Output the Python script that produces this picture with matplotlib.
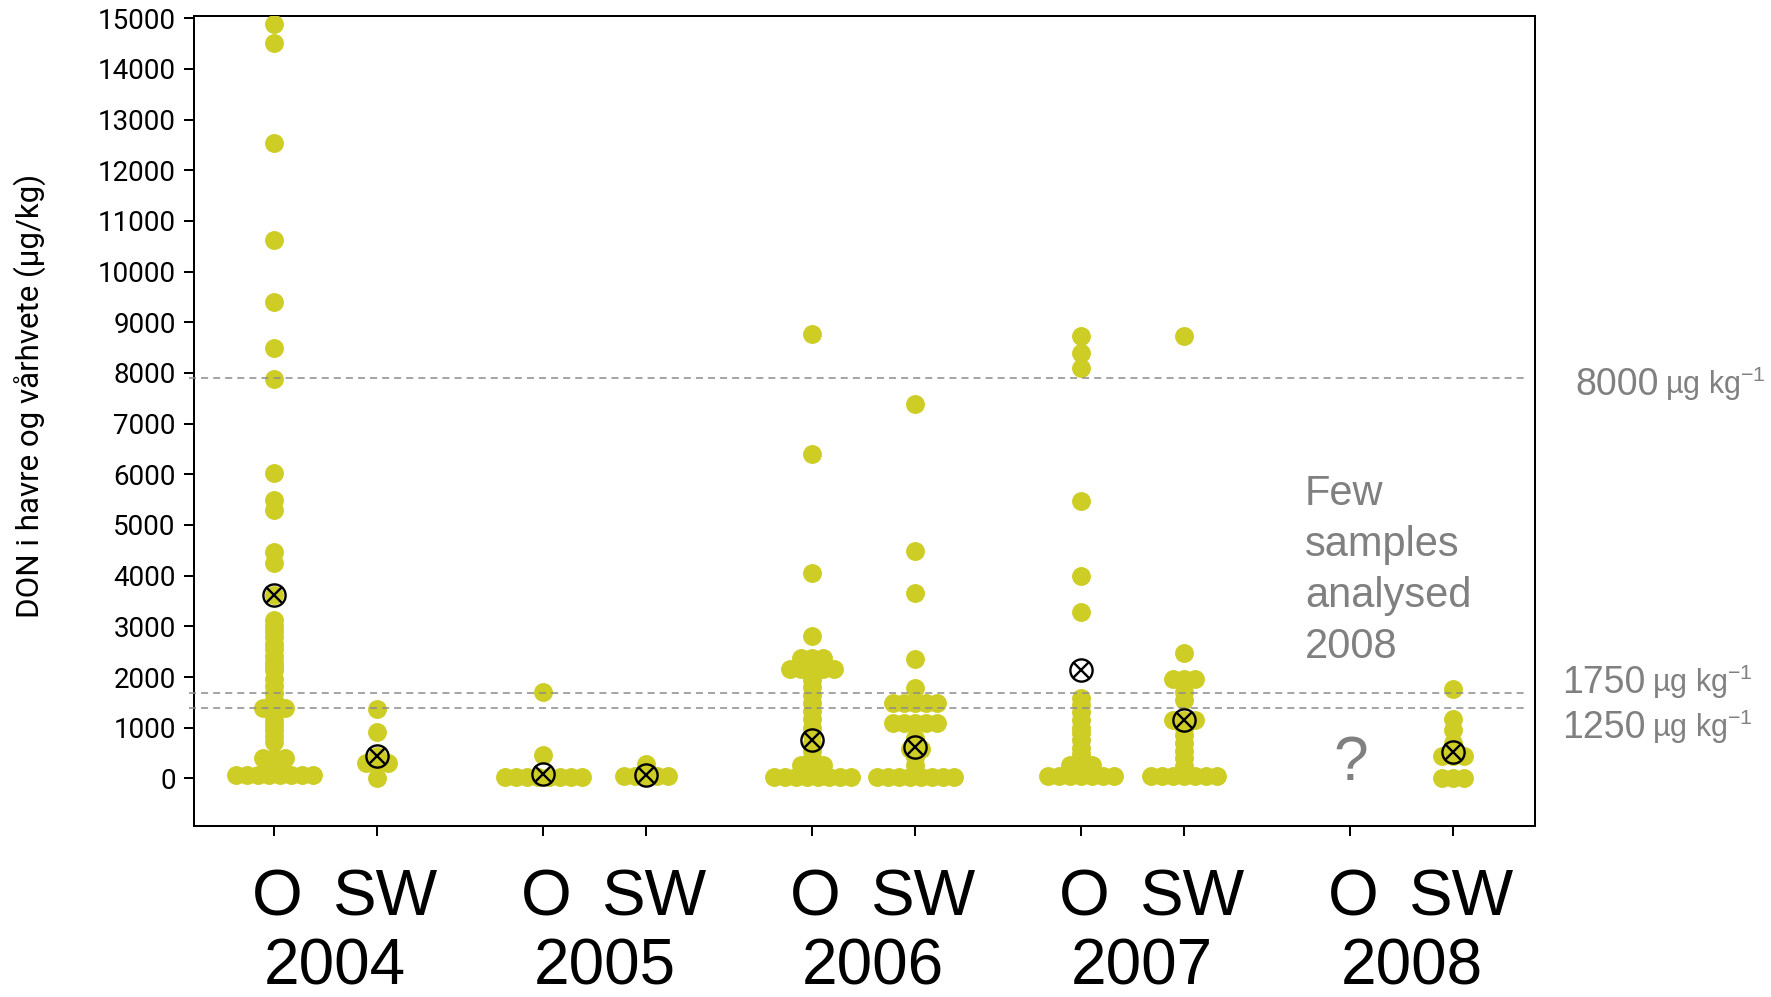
import numpy as np
import matplotlib
matplotlib.use("Agg")
import matplotlib.pyplot as plt

# DON values (µg/kg), one list per year / crop
years = ["2004", "2005", "2006", "2007", "2008"]
crops = ["O", "SW"]

don_2004_o = [14890, 14510, 12530, 10620, 9400, 8490, 7880, 6020, 5490, 5300,
              4470, 4250, 3620, 3120, 3000, 2900, 2790, 2650, 2560, 2420, 2300,
              2200, 2140, 1970, 1820, 1680, 1540, 1380, 1380, 1380, 1280, 1160,
              1050, 950, 840, 720, 400, 400, 400, 60, 60, 60, 60, 60, 60, 60, 60]
don_2004_sw = [1360, 920, 440, 300, 300, 300, 10]
don_2005_o = [1700, 460, 30, 30, 30, 30, 30, 30, 30, 30]
don_2005_sw = [280, 50, 50, 50, 50, 50]
don_2006_o = [8760, 6400, 4050, 2800, 2370, 2370, 2370, 2150, 2150, 2150, 2150,
              2150, 1950, 1800, 1650, 1480, 1330, 1180, 1000, 850, 700, 550, 400,
              260, 260, 260, 30, 30, 30, 30, 30, 30, 30, 30]
don_2006_sw = [7390, 4490, 3660, 2360, 1790, 1480, 1480, 1480, 1480, 1480,
               1100, 1100, 1100, 1100, 1100, 800, 580, 580, 420, 260,
               30, 30, 30, 30, 30, 30, 30, 30]
don_2007_o = [8720, 8390, 8090, 5470, 3990, 3280, 1580, 1450, 1300, 1150, 1000,
              890, 750, 600, 490, 260, 260, 260, 45, 45, 45, 45, 45, 45, 45]
don_2007_sw = [8720, 2480, 1970, 1970, 1970, 1700, 1550, 1150, 1150, 1150, 1000,
               850, 700, 550, 400, 250, 45, 45, 45, 45, 45, 45, 45]
don_2008_o = []
don_2008_sw = [1760, 1180, 950, 700, 440, 440, 440, 0, 0, 0]

groups = [don_2004_o, don_2004_sw, don_2005_o, don_2005_sw, don_2006_o,
          don_2006_sw, don_2007_o, don_2007_sw, don_2008_o, don_2008_sw]
means = [3620, 440, 85, 65, 760, 625, 2140, 1150, None, 525]

limits = [7900, 1680, 1395]
limit_labels = ["8000", "1750", "1250"]
yticks = np.arange(0, 15001, 1000)

note_lines = ["Few", "samples", "analysed", "2008"]

# layout
plt.rcParams["mathtext.fontset"] = "custom"
plt.rcParams["mathtext.rm"] = "Liberation Sans"
dot_color = "#cdcd25"
grey = "#808080"
pair_gap = 0.383
step = 0.041  # horizontal spread for tied values

fig = plt.figure(figsize=(17.71, 9.97), dpi=100)
ax = fig.add_axes([0.1095, 0.1715, 0.7572, 0.8128])

xpos = []
for i, vals in enumerate(groups):
    x0 = i // 2 + (i % 2) * pair_gap
    xpos.append(x0)
    if len(vals) == 0:
        continue
    vals = np.asarray(vals, dtype=float)
    offs = np.zeros(len(vals))
    for v in np.unique(vals):
        idx = np.where(vals == v)[0]
        offs[idx] = (np.arange(len(idx)) - (len(idx) - 1) / 2) * step
    ax.scatter(x0 + offs, vals, s=185, color=dot_color, linewidths=0, zorder=3)

for x0, m in zip(xpos, means):
    if m is None:
        continue
    ax.plot(x0, m, marker="o", ms=16, mfc="none", mec="black", mew=1.7, zorder=5)
    ax.plot(x0, m, marker="x", ms=11, mec="black", mew=1.7, zorder=5)

for y in limits:
    ax.plot([-0.318, 4.656], [y, y], color="#8c8c8c", lw=1.1,
            dashes=(4.6, 3.3), zorder=4, clip_on=False)

ax.set_xlim(-0.299, 4.686)
ax.set_ylim(-940, 15050)
ax.set_xticks(xpos)
ax.set_xticklabels([])
ax.set_yticks(yticks)
ax.set_yticklabels([str(t) for t in yticks], family="Roboto", fontsize=20)
ax.tick_params(direction="out", length=7.5, width=1.45, pad=5.5, colors="black")
for sp in ax.spines.values():
    sp.set_linewidth(1.45)

fig.text(0.0169, 0.6033, "DON i havre og vårhvete (µg/kg)", rotation=90,
         ha="center", va="center", fontsize=22.5, family="Roboto")

# category and year labels under the axis
btm = ax.get_xaxis_transform()
for g, yr in enumerate(years):
    ax.text(xpos[2 * g] + 0.01, -0.11, crops[0], transform=btm, ha="center",
            va="baseline", fontsize=47, family="Liberation Sans", clip_on=False)
    ax.text(xpos[2 * g + 1] + 0.03, -0.11, crops[1], transform=btm, ha="center",
            va="baseline", fontsize=47, family="Liberation Sans", clip_on=False)
    ax.text((xpos[2 * g] + xpos[2 * g + 1]) / 2 + 0.035, -0.195, yr, transform=btm,
            ha="center", va="baseline", fontsize=46, family="Liberation Sans",
            clip_on=False)

# annotations
for k, line in enumerate(note_lines):
    ax.text(3.831, 5394 - k * 1009, line, ha="left", va="baseline", fontsize=30,
            color=grey, family="Liberation Sans")
ax.text(4.0, -30, "?", ha="center", va="baseline", fontsize=45, color=grey,
        family="Liberation Sans")

label_pos = [(0.8893, 0.6038), (0.8818, 0.3046), (0.8818, 0.2595)]
for (fx, fy), lab in zip(label_pos, limit_labels):
    t = fig.text(fx, fy, lab, ha="left", va="baseline", fontsize=27, color=grey,
                 family="Liberation Sans")
    ax.annotate("µg kg$^{-1}$", xy=(1, 0), xycoords=t, xytext=(5, 0),
                textcoords="offset points", ha="left", va="bottom", fontsize=22,
                color=grey, family="Liberation Sans", annotation_clip=False)

fig.savefig("out.png", dpi=100)
